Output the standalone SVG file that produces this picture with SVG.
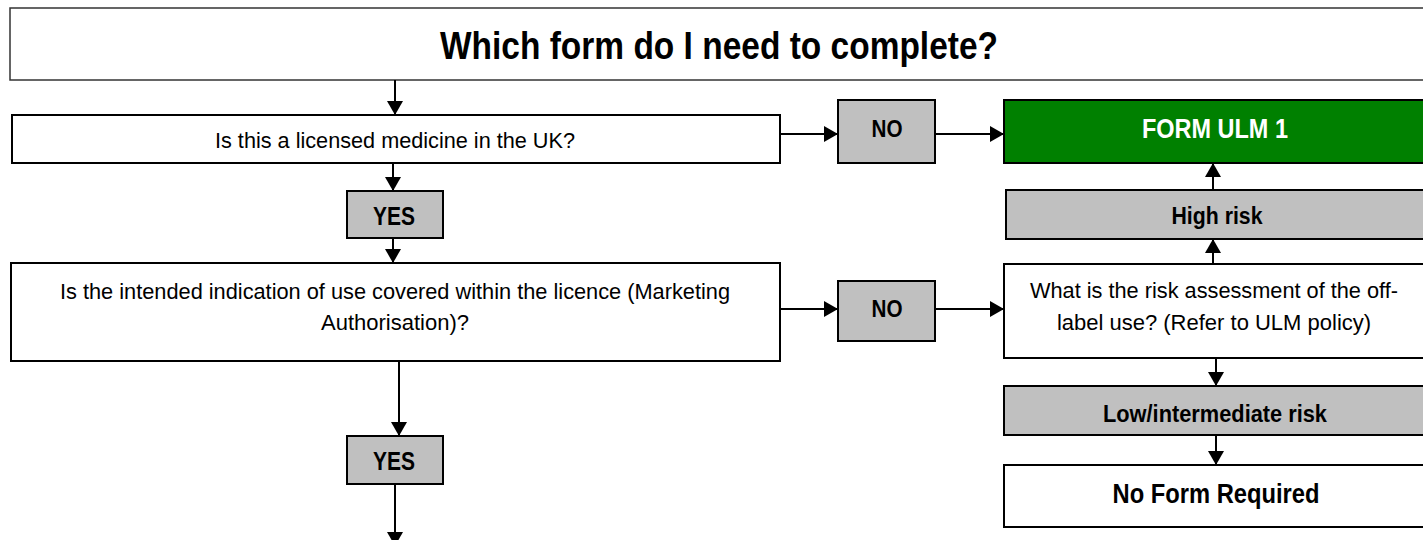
<svg xmlns="http://www.w3.org/2000/svg" width="1423" height="540" viewBox="0 0 1423 540">
<style>
.box{fill:#fff;stroke:#000;stroke-width:2}
.gray{fill:#c0c0c0;stroke:#000;stroke-width:2}
.green{fill:#008000;stroke:#000;stroke-width:2}
.title{fill:#fff;stroke:#333;stroke-width:1.5}
.t{font-family:"Liberation Sans",Arial,sans-serif;font-size:22px;fill:#000;text-anchor:middle}
.b{font-family:"Liberation Sans",Arial,sans-serif;font-weight:bold;font-size:24.5px;fill:#000;text-anchor:middle}
.w{fill:#fff}
.conn line{stroke:#000;stroke-width:2;marker-end:url(#arr)}
</style>
<defs>
<marker id="arr" markerUnits="userSpaceOnUse" markerWidth="16" markerHeight="16" refX="14" refY="8" orient="auto">
<path d="M0,0 L14,8 L0,16 Z" fill="#000"/>
</marker>
</defs>
<g id="title">
<rect class="title" x="10" y="8" width="1420" height="72"/>
<text class="b" x="719" y="59" style="font-size:38.5px" textLength="558" lengthAdjust="spacingAndGlyphs">Which form do I need to complete?</text>
</g>
<g id="q1">
<rect class="box" x="12" y="115" width="768" height="48"/>
<text class="t" x="395" y="148" textLength="360" lengthAdjust="spacingAndGlyphs">Is this a licensed medicine in the UK?</text>
</g>
<g id="yes1">
<rect class="gray" x="347" y="191" width="96" height="47"/>
<text class="b" x="394" y="225" style="font-size:25.5px" textLength="42" lengthAdjust="spacingAndGlyphs">YES</text>
</g>
<g id="q2">
<rect class="box" x="11" y="263" width="769" height="98"/>
<text class="t" x="395" y="299" textLength="670" lengthAdjust="spacingAndGlyphs">Is the intended indication of use covered within the licence (Marketing</text>
<text class="t" x="395" y="330">Authorisation)?</text>
</g>
<g id="yes2">
<rect class="gray" x="347" y="436" width="96" height="48"/>
<text class="b" x="394" y="470" style="font-size:25.5px" textLength="42" lengthAdjust="spacingAndGlyphs">YES</text>
</g>
<g id="no1">
<rect class="gray" x="838" y="100" width="97" height="63"/>
<text class="b" x="887" y="137" textLength="31" lengthAdjust="spacingAndGlyphs">NO</text>
</g>
<g id="no2">
<rect class="gray" x="838" y="281" width="97" height="60"/>
<text class="b" x="887" y="317" textLength="31" lengthAdjust="spacingAndGlyphs">NO</text>
</g>
<g id="ulm1">
<rect class="green" x="1004" y="100" width="430" height="63"/>
<text class="b w" x="1215" y="138" style="font-size:27.5px" textLength="146" lengthAdjust="spacingAndGlyphs">FORM ULM 1</text>
</g>
<g id="high">
<rect class="gray" x="1006" y="190" width="430" height="49"/>
<text class="b" x="1217" y="224" style="font-size:24px" textLength="91" lengthAdjust="spacingAndGlyphs">High risk</text>
</g>
<g id="q3">
<rect class="box" x="1004" y="264" width="430" height="94"/>
<text class="t" x="1214" y="298" textLength="368" lengthAdjust="spacingAndGlyphs">What is the risk assessment of the off-</text>
<text class="t" x="1214" y="330">label use? (Refer to ULM policy)</text>
</g>
<g id="low">
<rect class="gray" x="1004" y="386" width="430" height="49"/>
<text class="b" x="1215" y="422" style="font-size:23.5px" textLength="224" lengthAdjust="spacingAndGlyphs">Low/intermediate risk</text>
</g>
<g id="noform">
<rect class="box" x="1004" y="465" width="430" height="62"/>
<text class="b" x="1216" y="503" style="font-size:27px" textLength="207" lengthAdjust="spacingAndGlyphs">No Form Required</text>
</g>
<g id="connectors" class="conn">
<line x1="395" y1="80" x2="395" y2="115"/>
<line x1="393" y1="163" x2="393" y2="191"/>
<line x1="393" y1="238" x2="393" y2="263"/>
<line x1="780" y1="134" x2="838" y2="134"/>
<line x1="935" y1="134" x2="1004" y2="134"/>
<line x1="780" y1="309" x2="838" y2="309"/>
<line x1="935" y1="309" x2="1004" y2="309"/>
<line x1="1213" y1="264" x2="1213" y2="239"/>
<line x1="1213" y1="190" x2="1213" y2="163"/>
<line x1="1216" y1="358" x2="1216" y2="386"/>
<line x1="1216" y1="435" x2="1216" y2="465"/>
<line x1="399" y1="361" x2="399" y2="436"/>
<line x1="395" y1="484" x2="395" y2="546"/>
</g>
</svg>
